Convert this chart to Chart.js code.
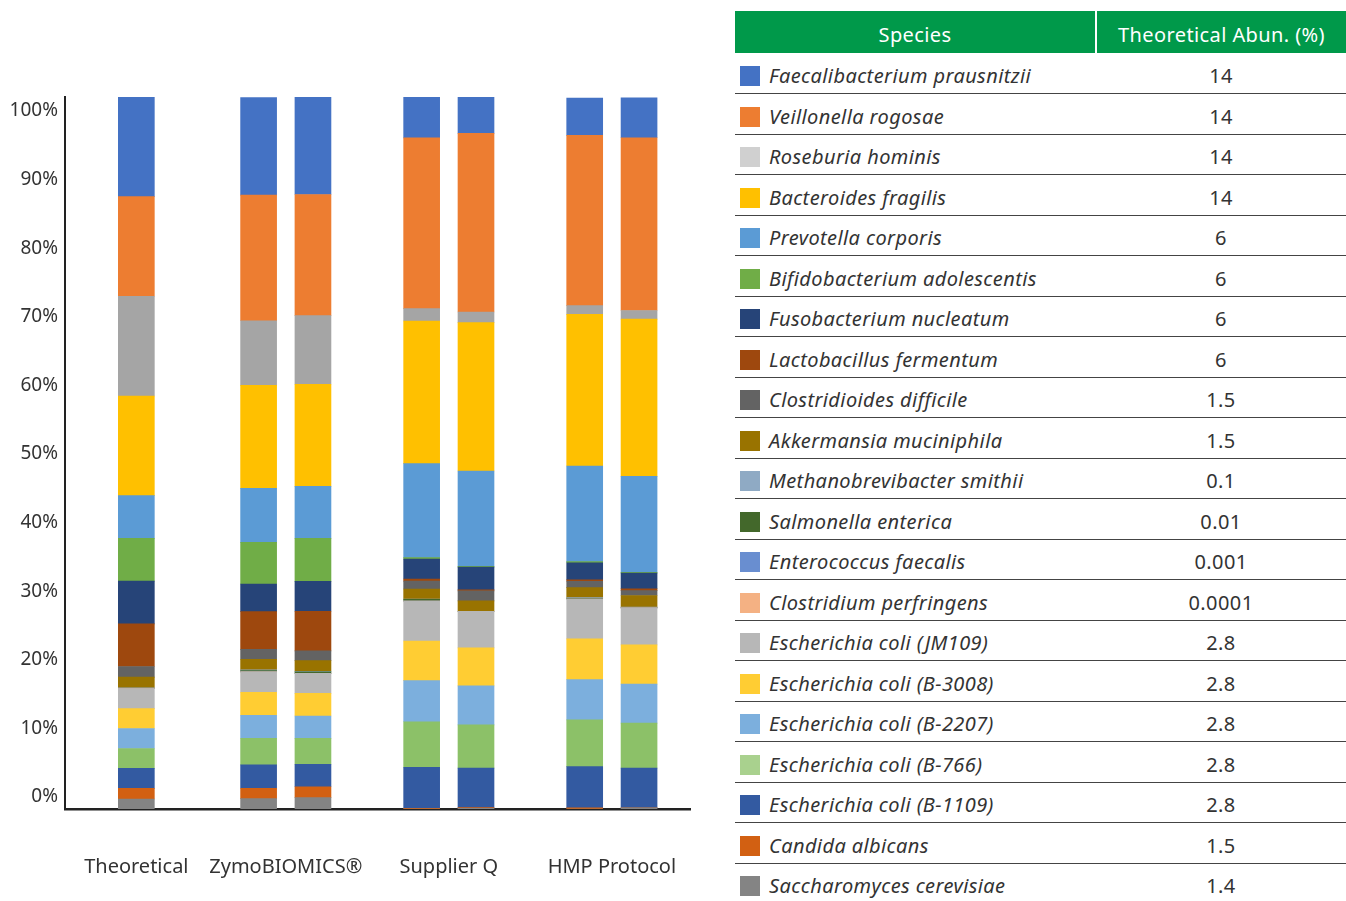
<!DOCTYPE html>
<html>
<head>
<meta charset="utf-8">
<script src="https://cdn.jsdelivr.net/npm/chart.js@4.4.0/dist/chart.umd.min.js"></script>
<style>
  body { margin: 0; background: #fff; font-family: "Noto Sans", sans-serif; }
  #chartBox { position: absolute; left: 0; top: 0; width: 733px; height: 901px; }
  #legendTable {
    position: absolute; left: 735px; top: 11px; width: 611px;
    border-collapse: collapse; color: #333; font-size: 20px; letter-spacing: 0.4px;
  }
  #legendTable th {
    background: #00994a; color: #fff; font-weight: normal; height: 42px; padding: 4px 0 0 0;
    box-sizing: border-box;
  }
  #legendTable th + th { border-left: 2px solid #fff; }
  #legendTable tr.row { height: 40.5px; }
  #legendTable td { padding: 5px 0 0 0; border-bottom: 1.5px solid #444; }
  #legendTable td.name { font-style: italic; white-space: nowrap; }
  #legendTable td.val { text-align: center; }
  .sw { display: inline-block; width: 20px; height: 20px; margin: 0 9px 0 5px; vertical-align: -3px; }
</style>
</head>
<body>
<div id="chartBox"><canvas id="abundanceChart" width="733" height="901"></canvas></div>
<table id="legendTable">
  <thead><tr><th style="width:361px">Species</th><th>Theoretical Abun. (%)</th></tr></thead>
  <tbody id="legendBody"></tbody>
</table>

<script>
// species, top to bottom as in the table (stack is drawn bottom-up, so reversed)
const species = [
  "Faecalibacterium prausnitzii", "Veillonella rogosae", "Roseburia hominis", "Bacteroides fragilis",
  "Prevotella corporis", "Bifidobacterium adolescentis", "Fusobacterium nucleatum", "Lactobacillus fermentum",
  "Clostridioides difficile", "Akkermansia muciniphila", "Methanobrevibacter smithii", "Salmonella enterica",
  "Enterococcus faecalis", "Clostridium perfringens", "Escherichia coli (JM109)", "Escherichia coli (B-3008)",
  "Escherichia coli (B-2207)", "Escherichia coli (B-766)", "Escherichia coli (B-1109)", "Candida albicans",
  "Saccharomyces cerevisiae"
];
const theoreticalText = ["14", "14", "14", "14", "6", "6", "6", "6", "1.5", "1.5", "0.1", "0.01",
  "0.001", "0.0001", "2.8", "2.8", "2.8", "2.8", "2.8", "1.5", "1.4"];

const colors = [
  "#4472c4", "#ed7d31", "#a5a5a5", "#ffc000", "#5b9bd5", "#70ad47", "#264478", "#9e480e",
  "#636363", "#997300", "#8faac4", "#43682b", "#698ed0", "#f4b183", "#b7b7b7", "#ffcd33",
  "#7cafdd", "#8cc168", "#335aa1", "#d26012", "#848484"
];
// the table's swatches are a touch lighter for two species
const swatchColors = colors.slice();
swatchColors[2] = "#d0d0d0";
swatchColors[17] = "#a9d18e";

// measured abundance (%) per bar, in species order
const theoretical = [14, 14, 14, 14, 6, 6, 6, 6, 1.5, 1.5, 0.1, 0.01, 0.001, 0.0001, 2.8, 2.8, 2.8, 2.8, 2.8, 1.5, 1.4];
const zymo1 = [13.7, 17.65, 9.07, 14.47, 7.58, 5.85, 3.89, 5.28, 1.4, 1.5, 0.1, 0.18, 0, 0, 2.85, 3.23, 3.23, 3.75, 3.28, 1.46, 1.45];
const zymo2 = [13.7, 17.0, 9.65, 14.33, 7.3, 6.04, 4.21, 5.56, 1.36, 1.5, 0.1, 0.2, 0, 0, 2.8, 3.19, 3.13, 3.65, 3.15, 1.54, 1.59];
const supplierQ1 = [5.76, 24.0, 1.73, 20.04, 13.2, 0.2, 2.8, 0.3, 1.1, 1.4, 0.05, 0.25, 0, 0, 5.6, 5.58, 5.76, 6.4, 5.76, 0.1, 0];
const supplierQ2 = [5.06, 25.1, 1.5, 20.83, 13.39, 0.1, 3.2, 0.15, 1.4, 1.45, 0, 0, 0, 0, 5.15, 5.34, 5.48, 6.08, 5.53, 0.1, 0.1];
const hmp1 = [5.25, 23.92, 1.22, 21.29, 13.44, 0.15, 2.4, 0.2, 0.9, 1.4, 0.1, 0.1, 0, 0, 5.6, 5.72, 5.66, 6.56, 5.8, 0.15, 0];
const hmp2 = [5.62, 24.26, 1.22, 22.09, 13.48, 0.1, 2.2, 0.25, 0.7, 1.63, 0.05, 0.05, 0, 0, 5.2, 5.52, 5.48, 6.32, 5.58, 0, 0.15];

const bars = [theoretical, zymo1, zymo2, supplierQ1, supplierQ2, hmp1, hmp2];
const groupNames = ["Theoretical", "ZymoBIOMICS®", "Supplier Q", "HMP Protocol"];
const yTicks = [0, 10, 20, 30, 40, 50, 60, 70, 80, 90, 100];

// layout: the x axis is cut into narrow slots so bars and gaps land where they should
const SLOTS = 92;
const barSlot = [10, 27.5, 36, 51.5, 60, 76, 83.5].map(Math.round);
const groupSlot = [10, 32, 56, 80];

const labels = new Array(SLOTS).fill("");
groupSlot.forEach((s, i) => { labels[s] = groupNames[i]; });

const datasets = [];
for (let s = species.length - 1; s >= 0; s--) {
  const data = new Array(SLOTS).fill(null);
  bars.forEach((b, i) => { data[barSlot[i]] = b[s]; });
  datasets.push({
    label: species[s],
    data: data,
    backgroundColor: colors[s],
    borderWidth: 0,
    barThickness: 36,
    yAxisID: "y"
  });
}

// legend table
const body = document.getElementById("legendBody");
species.forEach((name, i) => {
  const tr = document.createElement("tr");
  tr.className = "row";
  tr.innerHTML = `<td class="name"><span class="sw" style="background:${swatchColors[i]}"></span>${name}</td>` +
    `<td class="val">${theoreticalText[i]}</td>`;
  body.appendChild(tr);
});

const chart = new Chart(document.getElementById("abundanceChart"), {
  type: "bar",
  data: { labels: labels, datasets: datasets },
  options: {
    responsive: false,
    animation: false,
    layout: { padding: { top: 97, right: 43, left: 0, bottom: 0 } },
    plugins: { legend: { display: false }, tooltip: { enabled: false } },
    scales: {
      x: {
        stacked: true,
        grid: { display: false, drawTicks: false },
        border: { display: true, color: "#222", width: 2.5 },
        ticks: {
          autoSkip: false, maxRotation: 0, minRotation: 0, padding: 46,
          color: "#333", font: { family: "Noto Sans", size: 20 }
        },
        afterFit: sc => { sc.height = 92; }
      },
      y: {
        stacked: true, display: false, min: 0, max: 100
      },
      yLabels: {
        position: "left",
        min: -1.75, max: 102.04,
        grid: { display: false, drawTicks: false },
        border: { display: true, color: "#222", width: 2 },
        afterBuildTicks: sc => { sc.ticks = yTicks.map(v => ({ value: v })); },
        ticks: {
          includeBounds: false, padding: 7,
          color: "#333", font: { family: "Noto Sans", size: 19 },
          callback: v => v + "%"
        },
        afterFit: sc => { sc.width = 65; }
      }
    }
  }
});

// nudge the plot's right edge to x = 690
for (let k = 0; k < 3; k++) {
  const diff = 690 - chart.chartArea.right;
  if (Math.abs(diff) < 0.5) break;
  chart.options.layout.padding.right -= diff;
  chart.update();
}
</script>
</body>
</html>
